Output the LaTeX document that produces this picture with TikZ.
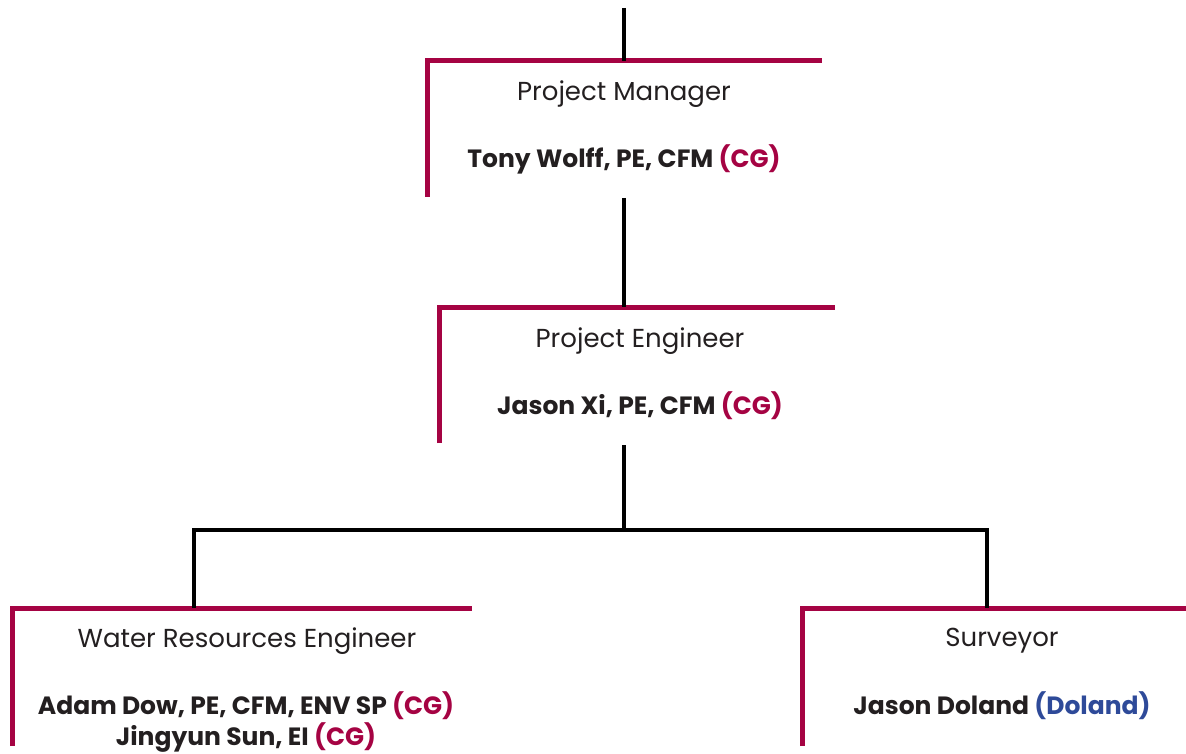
\documentclass[tikz,border=0pt]{standalone}
\usepackage{fontspec}
\setmainfont{Poppins}
\definecolor{cgred}{HTML}{A50343}
\definecolor{dolblue}{HTML}{2E4A99}
\definecolor{inkgray}{HTML}{231F20}

\tikzset{
    role/.style={font=\fontsize{26}{30}\selectfont, text=inkgray},
    staff/.style={font=\fontsize{25}{31}\selectfont\bfseries, text=inkgray, align=center},
    rolebox/.style={draw=cgred, line width=5pt},
    link/.style={draw=black, line width=4pt}
}

\begin{document}
\begin{tikzpicture}[x=1pt,y=-1pt]
\useasboundingbox (0,0) rectangle (1186,754);

% project manager
\coordinate (feed) at (624,8);
\coordinate (pmtop) at (624,61);
\coordinate (pmbot) at (624,198);
\draw[rolebox] (427,197) -- (427,61) -- (822,61);
\node[role] (pm) at (624,94) {Project Manager};
\node[staff] (pmname) at (624,159) {Tony Wolff, PE, CFM \textcolor{cgred}{(CG)}};

% project engineer
\coordinate (petop) at (624,307);
\coordinate (pebot) at (624,445);
\draw[rolebox] (439,443) -- (439,307) -- (835,307);
\node[role] (pe) at (640,341) {Project Engineer};
\node[staff] (pename) at (640,406) {Jason Xi, PE, CFM \textcolor{cgred}{(CG)}};

% water resources engineer
\coordinate (wretop) at (194,608);
\draw[rolebox] (12,746) -- (12,608) -- (472,608);
\node[role] (wre) at (247,641) {Water Resources Engineer};
\node[staff] (wrename) at (246,722) {Adam Dow, PE, CFM, ENV SP \textcolor{cgred}{(CG)}\\
    Jingyun Sun, EI \textcolor{cgred}{(CG)}};

% surveyor
\coordinate (survtop) at (987,608);
\draw[rolebox] (802,746) -- (802,608) -- (1186,608);
\node[role] (surv) at (1002,641) {Surveyor};
\node[staff] (survname) at (1002,706) {Jason Doland \textcolor{dolblue}{(Doland)}};

% connectors
\coordinate (split) at (624,530);
\draw[link] (feed) -- (pmtop);
\draw[link] (pmbot) -- (petop);
\draw[link] (pebot) -- (split);
\draw[link] (wretop) |- (split) -| (survtop);
\end{tikzpicture}
\end{document}
